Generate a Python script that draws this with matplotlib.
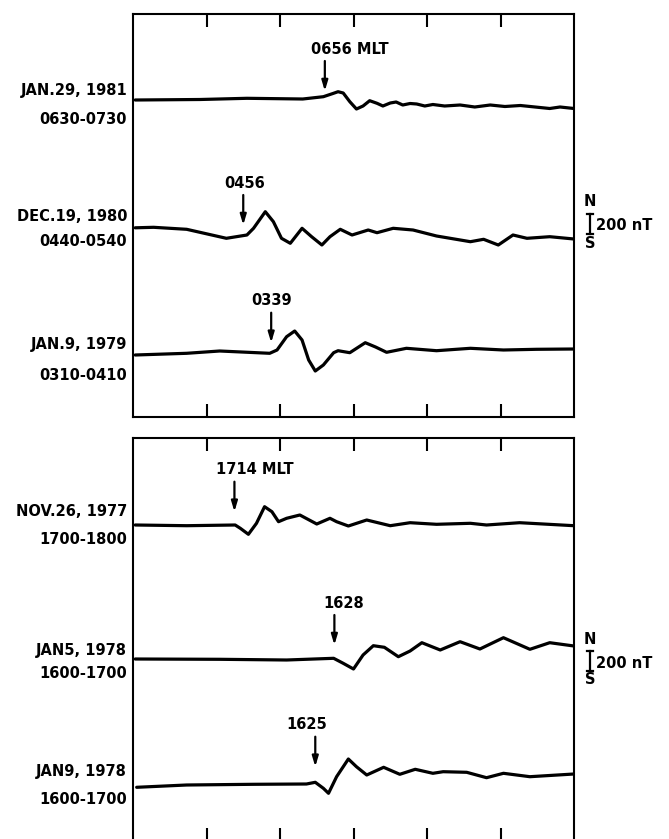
import matplotlib
matplotlib.use('Agg')
import matplotlib.pyplot as plt
import numpy as np

# traces: minutes into the 1-h window, amplitude in nT (north up) relative to each baseline
t1 = [0.3, 9.1, 15.5, 23.1, 25.9, 27.2, 27.9, 28.6, 29.5, 30.4, 31.3, 32.2, 33.2, 34.0, 35.0, 35.8,
      36.7, 37.7, 38.6, 39.7, 40.8, 42.4, 44.5, 46.5, 48.6, 50.6, 52.7, 54.7, 56.7, 58.1, 60.0]
b1 = [0, 5, 17, 10, 33, 65, 83, 70, -17, -90, -60, -7, -33, -60, -30, -20,
      -50, -35, -40, -60, -45, -60, -50, -70, -50, -65, -55, -70, -85, -70, -85]

t2 = [0.3, 2.8, 7.3, 12.7, 15.5, 16.4, 18.0, 19.1, 20.2, 21.4, 23.0, 24.3, 25.7, 26.8, 28.2,
      29.8, 32.0, 33.2, 35.4, 38.1, 41.3, 45.9, 47.7, 49.7, 51.7, 53.6, 56.7, 60.0]
b2 = [2, 7, -13, -103, -70, -3, 163, 63, -103, -153, -3, -87, -170, -87, -13,
      -70, -20, -47, -3, -20, -80, -137, -113, -170, -70, -103, -87, -110]

t3 = [0.3, 7.3, 11.8, 18.6, 19.6, 20.9, 22.0, 23.0, 23.9, 24.8, 25.9, 27.3, 27.9, 29.5,
      31.6, 33.0, 34.5, 37.2, 41.3, 45.9, 50.4, 54.9, 60.0]
b3 = [-10, 7, 30, 7, 40, 173, 230, 140, -60, -170, -110, 13, 33, 13,
      113, 70, 17, 57, 33, 57, 40, 47, 50]

t4 = [0.3, 7.3, 13.9, 14.6, 15.7, 16.8, 17.9, 18.9, 19.8, 20.9, 22.7, 25.0, 26.8, 27.7,
      29.3, 31.8, 35.0, 37.7, 41.3, 45.9, 48.1, 52.6, 60.0]
b4 = [0, -7, 0, -33, -93, 17, 183, 133, 33, 67, 100, 10, 67, 33,
      -10, 50, -7, 23, 7, 17, 0, 23, -7]

t5 = [0.3, 11.8, 20.9, 27.3, 28.6, 30.0, 31.3, 32.7, 34.2, 36.1, 37.7, 39.3, 41.8, 44.5,
      47.2, 50.4, 54.0, 56.7, 60.0]
b5 = [0, -3, -10, 7, -43, -100, 40, 133, 117, 23, 80, 163, 90, 173,
      100, 213, 97, 163, 130]

t6 = [0.5, 7.3, 16.4, 23.6, 24.8, 25.9, 26.6, 27.7, 29.3, 30.4, 31.8, 34.1, 36.3, 38.4,
      40.8, 42.2, 45.4, 48.1, 50.4, 54.0, 60.0]
b6 = [-13, 10, 17, 20, 37, -23, -73, 93, 270, 193, 110, 187, 117, 167,
      127, 143, 137, 83, 127, 93, 120]

dates = ["JAN.29, 1981", "DEC.19, 1980", "JAN.9, 1979",
         "NOV.26, 1977", "JAN5, 1978", "JAN9, 1978"]
windows = ["0630-0730", "0440-0540", "0310-0410",
           "1700-1800", "1600-1700", "1600-1700"]
onset_labels = ["0656 MLT", "0456", "0339", "1714 MLT", "1628", "1625"]
onset_min = [26.1, 15.0, 18.8, 13.8, 27.4, 24.8]

traces = [(t1, b1), (t2, b2), (t3, b3), (t4, b4), (t5, b5), (t6, b6)]

# layout (nT units, 10 nT per pixel)
baselines = [3167, 1887, 627, 3160, 1820, 550]
tip_gap = [90, 30, 113, 133, 140, 193]
label_dx = [3.4, 0.2, 0.1, 2.8, 1.2, -1.2]
date_dy = [90, 113, 90, 133, 90, 143]
win_dy = [-200, -137, -210, -150, -140, -140]

fig = plt.figure(figsize=(6.69, 8.39), dpi=100)
ax_top = fig.add_axes([133 / 669, 1 - 416.7 / 839, 441 / 669, 403 / 839])
ax_bot = fig.add_axes([133 / 669, 1 - 841 / 839, 441 / 669, 403 / 839])
axes = [ax_top, ax_top, ax_top, ax_bot, ax_bot, ax_bot]

for ax in (ax_top, ax_bot):
    ax.set_xlim(0, 60)
    ax.set_ylim(0, 4030)
    ax.set_xticks([10, 20, 30, 40, 50])
    ax.set_yticks([])
    ax.tick_params(axis='x', direction='in', length=9.5, width=1.5, top=True, bottom=True,
                   labelbottom=False)
    for sp in ax.spines.values():
        sp.set_linewidth(1.5)

txt = dict(family='DejaVu Sans', fontsize=10.5, fontweight='bold', color='black')

for i, (t, b) in enumerate(traces):
    ax = axes[i]
    base = baselines[i]
    ax.plot(t, np.array(b) + base, color='black', lw=2.3, solid_joinstyle='round',
            solid_capstyle='round')
    tip = base + tip_gap[i]
    ax.annotate("", xy=(onset_min[i], tip), xytext=(onset_min[i], tip + 300),
                arrowprops=dict(arrowstyle='-|>,head_length=0.6,head_width=0.18',
                                color='black', lw=1.6, shrinkA=0, shrinkB=0))
    ax.text(onset_min[i] + label_dx[i], tip + 420, onset_labels[i], ha='center',
            va='center', **txt)
    ax.text(-0.8, base + date_dy[i], dates[i], ha='right', va='center', clip_on=False, **txt)
    ax.text(-0.8, base + win_dy[i], windows[i], ha='right', va='center', clip_on=False, **txt)

# 200 nT scale bars
for ax, mid in ((ax_top, 1927), (ax_bot, 1800)):
    xb = 62.2
    ax.plot([xb, xb], [mid - 100, mid + 100], color='black', lw=1.6, clip_on=False)
    ax.plot([xb - 0.4, xb + 0.4], [mid + 100, mid + 100], color='black', lw=1.6, clip_on=False)
    ax.plot([xb - 0.4, xb + 0.4], [mid - 100, mid - 100], color='black', lw=1.6, clip_on=False)
    ax.text(xb, mid + 220, "N", ha='center', va='center', clip_on=False, **txt)
    ax.text(xb, mid - 190, "S", ha='center', va='center', clip_on=False, **txt)
    ax.text(xb + 0.8, mid - 20, "200 nT", ha='left', va='center', clip_on=False, **txt)

plt.savefig("out.png", dpi=100)
plt.close()
